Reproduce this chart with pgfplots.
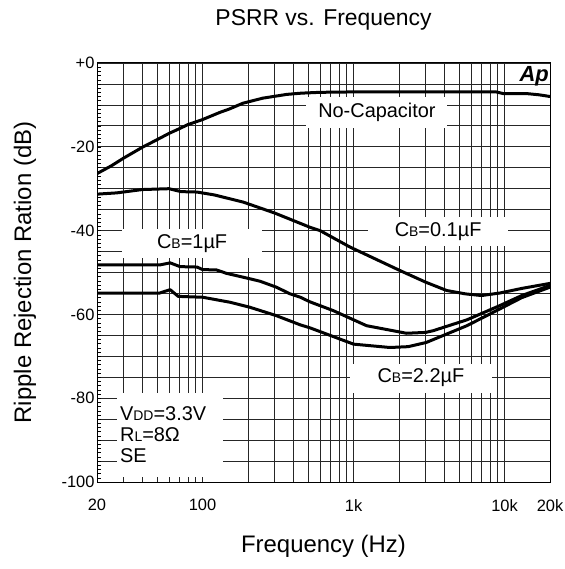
\documentclass[border=0pt]{standalone}
\usepackage{pgfplots}
\pgfplotsset{compat=1.18}
\usepackage{fontspec}
\setmainfont{Liberation Sans}
\newcommand{\sm}[1]{{\fontsize{14}{14}\selectfont #1}}
\begin{document}
\begin{tikzpicture}
\begin{axis}[
    scale only axis,
    width=453bp, height=419bp,
    xmode=log,
    xmin=20, xmax=20000,
    ymin=-100, ymax=0,
    xtick={20,100,1000,10000,20000},
    xticklabels={20,100,1k,10k,20k},
    minor xtick={30,40,50,60,70,80,90,200,300,400,500,600,700,800,900,2000,3000,4000,5000,6000,7000,8000,9000},
    ytick={-100,-80,-60,-40,-20,0},
    yticklabels={-100,-80,-60,-40,-20,+0},
    minor ytick={-95,-90,-85,-75,-70,-65,-55,-50,-45,-35,-30,-25,-15,-10,-5},
    grid=both,
    grid style={black!85, line width=0.7bp},
    minor grid style={black!85, line width=0.7bp},
    axis line style={black, line width=1bp},
    tick pos=left, tick align=inside,
    major tick length=0pt, minor tick length=0pt,
    extra y ticks={-99,-98,...,-1},
    extra y tick labels={},
    extra y tick style={grid=none, major tick length=4bp, tick style={black, line width=0.5bp}},
    tick label style={font=\fontsize{16.5}{19}\selectfont},
    yticklabel style={xshift=1bp},
    xticklabel style={yshift=-14bp},
    title={PSRR vs. Frequency},
    title style={font=\fontsize{23}{26}\selectfont, at={(0.5,1.088)}, anchor=center},
    xlabel={Frequency (Hz)},
    xlabel style={font=\fontsize{24}{27}\selectfont, at={(0.5,-0.153)}, anchor=center},
    ylabel={Ripple Rejection Ration (dB)},
    ylabel style={font=\fontsize{24}{27}\selectfont, at={(-0.159,0.5)}, anchor=center},
]
% No capacitor
\addplot[black, line width=3bp, line join=round, mark=none] coordinates {
(20,-26.4) (25,-24.5) (30,-22.7) (40,-20.1) (50,-18.3) (60,-16.8) (70,-15.7)
(80,-14.7) (100,-13.5) (130,-11.8) (150,-11) (185,-9.6) (250,-8.4) (360,-7.5)
(450,-7.2) (600,-7.0) (1000,-6.9) (8800,-6.9) (9800,-7.3) (14000,-7.3)
(17000,-7.6) (20000,-8)
};
% CB = 0.1uF
\addplot[black, line width=3bp, line join=round, mark=none] coordinates {
(20,-31.3) (27,-31.0) (40,-30.2) (60,-30.0) (72,-30.7) (92,-30.8) (120,-31.5)
(186,-33.2) (300,-35.8) (514,-39.2) (600,-40) (944,-43.9) (1400,-46.8)
(2020,-49.5) (3000,-52.3) (4140,-54.3) (5500,-55.1) (7040,-55.5) (9300,-54.9)
(13000,-53.8) (20000,-52.6)
};
% CB = 1uF
\addplot[black, line width=3bp, line join=round, mark=none] coordinates {
(20,-48.2) (52,-48.2) (61,-47.7) (71,-48.6) (92,-48.7) (100,-49.3) (124,-49.4)
(144,-50.2) (206,-51.5) (241,-52.1) (308,-53.5) (380,-55.1) (444,-55.9)
(514,-57.0) (734,-59.1) (1220,-62.7) (2240,-64.5) (3000,-64.3) (3360,-63.9)
(5630,-61.3) (9300,-57.9) (13000,-55.5) (20000,-53.1)
};
% CB = 2.2uF
\addplot[black, line width=3bp, line join=round, mark=none] coordinates {
(20,-54.9) (52,-54.9) (61,-54.1) (69,-55.7) (100,-55.9) (152,-57.1) (206,-58.3)
(308,-60.3) (444,-62.5) (514,-63.2) (1000,-67.1) (1740,-67.9) (2300,-67.7)
(3030,-66.7) (5630,-62.7) (9300,-58.7) (13000,-56) (20000,-53.5)
};
\node[fill=white, minimum width=141bp, minimum height=31bp, font=\fontsize{20}{22}\selectfont]
  at (axis description cs:0.618,0.882) {No-Capacitor};
\node[fill=white, minimum width=140bp, minimum height=29bp, font=\fontsize{20}{22}\selectfont]
  at (axis description cs:0.753,0.597) {C\sm{B}=0.1µF};
\node[fill=white, minimum width=140bp, minimum height=29bp, font=\fontsize{20}{22}\selectfont]
  at (axis description cs:0.210,0.570) {C\sm{B}=1µF};
\node[fill=white, minimum width=142bp, minimum height=29bp, font=\fontsize{20}{22}\selectfont]
  at (axis description cs:0.715,0.248) {C\sm{B}=2.2µF};
\node[fill=white, anchor=north west, align=left, text width=100bp, minimum height=84bp,
  inner sep=3bp, font=\fontsize{20}{21}\selectfont]
  at (axis description cs:0.044,0.213) {V\sm{DD}=3.3V\\R\sm{L}=8Ω\\SE};
\node[font=\fontsize{22}{22}\selectfont\bfseries\itshape]
  at (axis description cs:0.965,0.968) {Ap};
\end{axis}
\pgfresetboundingbox
\path[use as bounding box] (-97bp,-87bp) rectangle (468bp,482bp);
\end{tikzpicture}
\end{document}
